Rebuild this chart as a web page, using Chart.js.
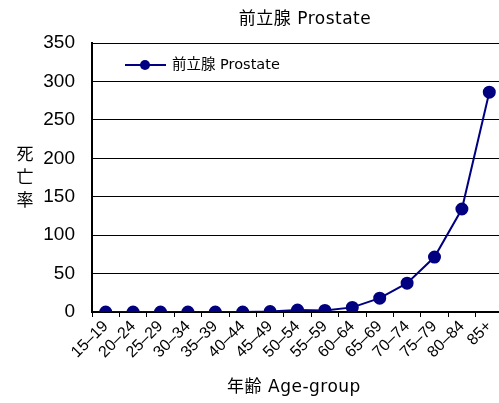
<!DOCTYPE html>
<html>
<head>
<meta charset="utf-8">
<script src="https://cdn.jsdelivr.net/npm/chart.js@4"></script>
<style>
  html, body { margin: 0; padding: 0; background: #fff; overflow: hidden; }
  #wrap { width: 503px; height: 403px; }
</style>
</head>
<body>
<div id="wrap"><canvas id="c"></canvas></div>
<script>
// 年齢階級と死亡率
const ageGroups = ['15–19', '20–24', '25–29', '30–34', '35–39', '40–44', '45–49',
  '50–54', '55–59', '60–64', '65–69', '70–74', '75–79', '80–84', '85+'];
const prostate = [0, 0, 0, 0, 0, 0, 0.5, 2.5, 2, 6, 18, 37.5, 71.5, 134, 286];
const yTicks = [0, 50, 100, 150, 200, 250, 300, 350];

const FONT = '"DejaVu Sans", "Noto Sans CJK JP", sans-serif';
const NUMFONT = '"Liberation Sans", Arial, sans-serif';
const NAVY = '#000080';

// タイトル・軸タイトル・凡例を描く
const textPlugin = {
  id: 'texts',
  afterDraw(chart) {
    const ctx = chart.ctx;
    ctx.save();
    ctx.fillStyle = '#000';
    ctx.textAlign = 'center';
    ctx.textBaseline = 'middle';
    ctx.font = '17px ' + FONT;
    ctx.letterSpacing = '0.5px';
    ctx.fillText('前立腺 Prostate', 305, 20);
    ctx.fillText('年齢 Age-group', 294, 388);
    ctx.letterSpacing = '0px';
    ['死', '亡', '率'].forEach((ch, i) => {
      ctx.fillText(ch, 25, 156 + i * 23);
    });

    // 凡例
    const ly = 65;
    ctx.strokeStyle = NAVY;
    ctx.lineWidth = 2;
    ctx.beginPath();
    ctx.moveTo(125, ly);
    ctx.lineTo(166, ly);
    ctx.stroke();
    ctx.fillStyle = NAVY;
    ctx.beginPath();
    ctx.arc(145, ly, 5, 0, Math.PI * 2);
    ctx.fill();
    ctx.fillStyle = '#000';
    ctx.textAlign = 'left';
    ctx.font = '14.5px ' + FONT;
    ctx.fillText('前立腺 Prostate', 172, ly);
    ctx.restore();
  }
};

new Chart(document.getElementById('c'), {
  type: 'line',
  data: {
    labels: ageGroups,
    datasets: [{
      label: '前立腺 Prostate',
      data: prostate,
      borderColor: NAVY,
      backgroundColor: NAVY,
      borderWidth: 2,
      pointRadius: 5.5,
      pointHoverRadius: 5.5,
      pointBackgroundColor: NAVY,
      pointBorderColor: NAVY,
      tension: 0
    }]
  },
  options: {
    responsive: true,
    maintainAspectRatio: false,
    animation: false,
    layout: { autoPadding: false, padding: { top: 43, left: 0, right: 0, bottom: 0 } },
    plugins: {
      legend: { display: false },
      title: { display: false },
      tooltip: { enabled: false }
    },
    scales: {
      x: {
        offset: true,
        afterFit(scale) {
          scale.height = 91;
          scale.paddingLeft = 0;
          scale.paddingRight = 0;
        },
        grid: {
          offset: true,
          drawOnChartArea: false,
          drawTicks: true,
          tickLength: 5,
          color: '#000',
          lineWidth: 1
        },
        border: { color: '#000', width: 2 },
        ticks: {
          color: '#000',
          font: { family: NUMFONT, size: 16 },
          minRotation: 45,
          maxRotation: 45,
          autoSkip: false,
          padding: 0
        }
      },
      y: {
        min: 0,
        max: 350,
        afterFit(scale) { scale.width = 92; },
        afterBuildTicks(scale) {
          scale.ticks = yTicks.map(v => ({ value: v }));
        },
        grid: {
          color: '#000',
          lineWidth: 1,
          drawTicks: false
        },
        border: { color: '#000', width: 2 },
        ticks: {
          color: '#000',
          font: { family: NUMFONT, size: 19 },
          padding: 17
        }
      }
    }
  },
  plugins: [textPlugin]
});
</script>
</body>
</html>
